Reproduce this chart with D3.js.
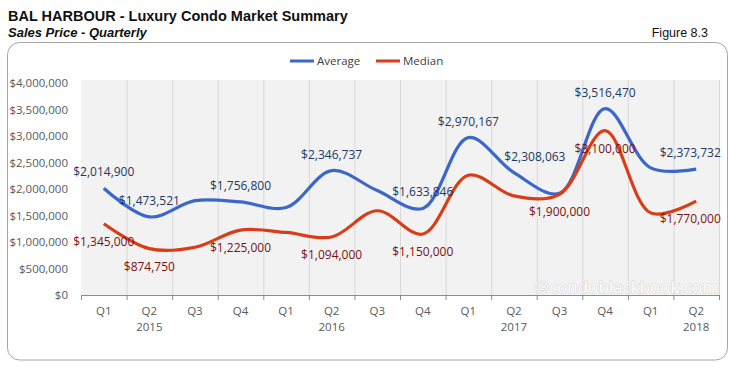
<!DOCTYPE html>
<html>
<head>
<meta charset="utf-8">
<script src="https://cdnjs.cloudflare.com/ajax/libs/d3/7.8.5/d3.min.js"></script>
<style>
  body { margin: 0; background: #fff; }
  svg { display: block; }
</style>
</head>
<body>
<script>
// Chart data
var quarters = ['Q1','Q2','Q3','Q4','Q1','Q2','Q3','Q4','Q1','Q2','Q3','Q4','Q1','Q2'];
var years = ['2015','2015','2015','2015','2016','2016','2016','2016','2017','2017','2017','2017','2018','2018'];
var average = [2014900, 1473521, 1780000, 1756800, 1650000, 2346737, 1970000, 1633846, 2970167, 2308063, 1920000, 3516470, 2400000, 2373732];
var median = [1345000, 874750, 900000, 1225000, 1180000, 1094000, 1590000, 1150000, 2260000, 1870000, 1900000, 3100000, 1550000, 1770000];
var avgLabelIdx = [0, 1, 3, 5, 7, 8, 9, 11, 13];
var medLabelIdx = [0, 1, 3, 5, 7, 10, 11, 13];
var yTicks = [0, 500000, 1000000, 1500000, 2000000, 2500000, 3000000, 3500000, 4000000];

var W = 731, H = 370
var FONT = "'Open Sans', 'Noto Sans', sans-serif"
var PLOT = {left: 81, right: 719, top: 80, bottom: 295}
var BLUE = '#3a67c9', RED = '#d93d17'

var svg = d3.select('body').append('svg')
  .attr('width', W).attr('height', H)

// titles
svg.append('text').attr('x', 8).attr('y', 21)
  .attr('font-family', 'Liberation Sans, Arial, sans-serif')
  .attr('font-size', 14.5).attr('font-weight', 'bold').attr('fill', '#111')
  .text('BAL HARBOUR - Luxury Condo Market Summary')
svg.append('text').attr('x', 8).attr('y', 37)
  .attr('font-family', 'Liberation Sans, Arial, sans-serif')
  .attr('font-size', 13).attr('font-weight', 'bold').attr('font-style', 'italic').attr('fill', '#111')
  .text('Sales Price - Quarterly')
svg.append('text').attr('x', 708).attr('y', 37).attr('text-anchor', 'end')
  .attr('font-family', 'Liberation Sans, Arial, sans-serif')
  .attr('font-size', 12.5).attr('fill', '#111')
  .text('Figure 8.3')

// frame
svg.append('rect').attr('x', 7.5).attr('y', 42.5).attr('width', 720).attr('height', 317.5)
  .attr('rx', 12).attr('fill', 'none').attr('stroke', '#a6a6a6').attr('stroke-width', 1)

// plot background
svg.append('rect').attr('x', PLOT.left).attr('y', PLOT.top)
  .attr('width', PLOT.right - PLOT.left).attr('height', PLOT.bottom - PLOT.top)
  .attr('fill', '#f2f2f2')

//Scales
var idx = d3.range(quarters.length)
var x = d3.scaleBand().domain(idx).range([PLOT.left, PLOT.right])
var y = d3.scaleLinear().domain([0, 4000000]).range([PLOT.bottom, 83])
var cx = function(i) { return x(i) + x.bandwidth() / 2 }

// vertical gridlines at category boundaries
var bounds = idx.map(function(i) { return x(i) }).concat([PLOT.right])
svg.append('g').selectAll('line').data(bounds.slice(1)).enter().append('line')
  .attr('x1', function(d) { return d + 0.5 }).attr('x2', function(d) { return d + 0.5 })
  .attr('y1', PLOT.top).attr('y2', PLOT.bottom)
  .attr('stroke', '#d9d9d9')

// watermark
svg.append('text').attr('x', 718).attr('y', 293).attr('text-anchor', 'end')
  .attr('font-family', FONT).attr('font-size', 17).attr('fill', '#fff')
  .attr('stroke', '#d6d6d6').attr('stroke-width', 1.2).style('paint-order', 'stroke')
  .text('\u00a9condoblackbook.com')

// y axis labels
var yAxis = d3.axisLeft(y).tickValues(yTicks).tickFormat(d3.format('$,')).tickSize(0).tickPadding(13)
var gy = svg.append('g').attr('transform', 'translate(' + PLOT.left + ',0)').call(yAxis)
gy.select('.domain').remove()
gy.selectAll('text').attr('font-family', FONT).attr('font-size', 11.5).attr('fill', '#595959')

// x axis
var gx = svg.append('g')
gx.append('line').attr('x1', PLOT.left).attr('x2', PLOT.right)
  .attr('y1', PLOT.bottom + 0.5).attr('y2', PLOT.bottom + 0.5).attr('stroke', '#8c8c8c')
gx.selectAll('.tk').data(bounds).enter().append('line')
  .attr('x1', function(d) { return d + 0.5 }).attr('x2', function(d) { return d + 0.5 })
  .attr('y1', PLOT.bottom).attr('y2', PLOT.bottom + 5).attr('stroke', '#8c8c8c')
gx.selectAll('.q').data(idx).enter().append('text')
  .attr('x', cx).attr('y', 315).attr('text-anchor', 'middle')
  .attr('font-family', FONT).attr('font-size', 11.5).attr('fill', '#595959')
  .text(function(i) { return quarters[i] })
gx.selectAll('.yr').data(idx.filter(function(i) { return quarters[i] === 'Q2' })).enter().append('text')
  .attr('x', cx).attr('y', 331).attr('text-anchor', 'middle')
  .attr('font-family', FONT).attr('font-size', 11.5).attr('fill', '#595959')
  .text(function(i) { return years[i] })

// lines
var line = d3.line().x(function(d, i) { return cx(i) }).y(function(d) { return y(d) })
  .curve(d3.curveCatmullRom.alpha(0.5))
svg.append('path').datum(average).attr('d', line)
  .attr('fill', 'none').attr('stroke', BLUE).attr('stroke-width', 3.2).attr('stroke-linejoin', 'round')
svg.append('path').datum(median).attr('d', line)
  .attr('fill', 'none').attr('stroke', RED).attr('stroke-width', 3.2).attr('stroke-linejoin', 'round')

// data labels
var fmt = d3.format('$,')
var avgShift = {9: 21, 13: -6}
var medShift = {13: -6}
svg.append('g').selectAll('text').data(avgLabelIdx).enter().append('text')
  .attr('x', function(i) { return cx(i) + (avgShift[i] || 0) })
  .attr('y', function(i) { return y(average[i]) - 12 })
  .attr('text-anchor', 'middle')
  .attr('font-family', FONT).attr('font-size', 12).attr('fill', '#203864')
  .text(function(i) { return fmt(average[i]) })
svg.append('g').selectAll('text').data(medLabelIdx).enter().append('text')
  .attr('x', function(i) { return cx(i) + (medShift[i] || 0) })
  .attr('y', function(i) { return y(median[i]) + 22 })
  .attr('text-anchor', 'middle')
  .attr('font-family', FONT).attr('font-size', 12).attr('fill', '#7b1010')
  .text(function(i) { return fmt(median[i]) })

// legend
var legend = [{name: 'Average', color: BLUE, x: 290}, {name: 'Median', color: RED, x: 376}]
var lg = svg.append('g').selectAll('g').data(legend).enter().append('g')
  .attr('transform', function(d) { return 'translate(' + d.x + ',61)' })
lg.append('line').attr('x1', 0).attr('x2', 24).attr('stroke', function(d) { return d.color }).attr('stroke-width', 3)
lg.append('text').attr('x', 27).attr('y', 4)
  .attr('font-family', FONT).attr('font-size', 11.5).attr('fill', '#404040')
  .text(function(d) { return d.name })
</script>
</body>
</html>
